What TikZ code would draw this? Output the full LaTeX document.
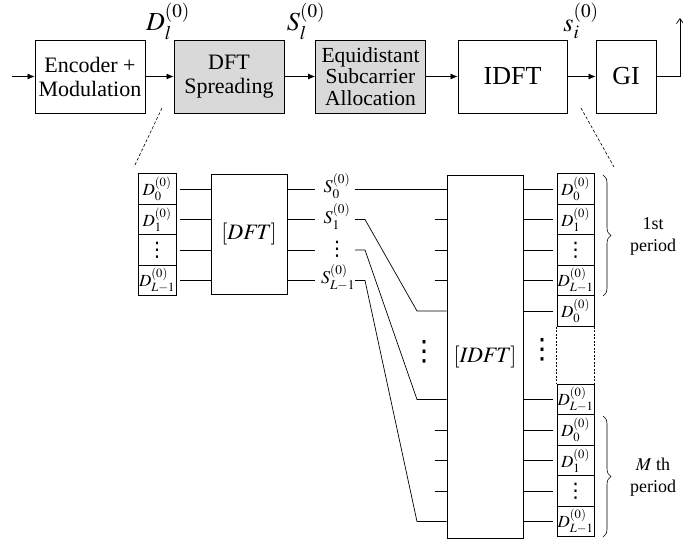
\documentclass[tikz,border=0pt]{standalone}
\usepackage{mathptmx}
\usepackage[no-math]{fontspec}
\setmainfont{Liberation Serif}
\newfontfamily\djv{DejaVu Sans}
\usetikzlibrary{arrows.meta,decorations.pathreplacing}
\newcommand{\myvd}[1]{{\djv\fontsize{#1}{#1}\selectfont ⋮}}
\begin{document}
\begin{tikzpicture}[x=1pt,y=-1pt,
 blk/.style={draw, line width=0.8pt, minimum height=73pt, align=center, inner sep=0pt, font=\fontsize{22}{24}\selectfont},
 gblk/.style={blk, fill=black!15},
 cell/.style={draw, line width=0.8pt, minimum width=37pt, minimum height=30.5pt, inner sep=0pt, font=\fontsize{17}{20}\selectfont},
 wire/.style={line width=0.7pt},
 arr/.style={wire, -{Latex[length=7pt,width=6pt]}},
 zoomln/.style={line width=0.6pt, dash pattern=on 3pt off 2pt},
 lbl/.style={font=\fontsize{26}{28}\selectfont, inner sep=0pt},
 slbl/.style={font=\fontsize{18}{20}\selectfont, inner sep=0pt},
 per/.style={align=center, font=\fontsize{18}{22}\selectfont},
 brc/.style={decorate, decoration={brace, amplitude=8pt}, line width=0.6pt},
 dts/.style={inner sep=0pt}]
\useasboundingbox (0,0) rectangle (683,542);

% ---------- top chain ----------
\node[blk, minimum width=110pt] (enc) at (90,76.5) {Encoder +\\Modulation};
\node[gblk, minimum width=110pt] (dft) at (229,76.5) {DFT\\Spreading};
\node[gblk, minimum width=110pt, font=\fontsize{21.5}{21.5}\selectfont] (eq) at (370.5,76.5) {Equidistant\\Subcarrier\\Allocation};
\node[blk, minimum width=109pt, font=\fontsize{26}{28}\selectfont] (idft) at (512.5,76.5) {IDFT};
\node[blk, minimum width=60pt, font=\fontsize{26}{28}\selectfont] (gi) at (626,76.5) {GI};

\coordinate (in) at (12,76.5);
\coordinate (outc) at (680,76.5);
\coordinate (outt) at (680,18);
\draw[arr] (in) -- (enc);
\draw[arr] (enc) -- (dft);
\draw[arr] (dft) -- (eq);
\draw[arr] (eq) -- (idft);
\draw[arr] (idft) -- (gi);
\draw[wire, -{Straight Barb[length=5pt,width=7pt]}] (gi.east) -- (outc) -- (outt);

\node[lbl] (lD) at (168,21) {$D_l^{(0)}$};
\node[lbl] (lS) at (306,21) {$S_l^{(0)}$};
\node[lbl] (ls) at (581,21) {$s_i^{(0)}$};

% zoom lines
\coordinate (zl1) at (162,108);
\coordinate (zl2) at (134,167);
\coordinate (zr1) at (581,108);
\coordinate (zr2) at (614,167);
\draw[zoomln] (zl1) -- (zl2);
\draw[zoomln] (zr1) -- (zr2);

% ---------- left column and DFT matrix ----------
\node[cell, minimum width=38pt] (a1) at (157,189) {$D_0^{(0)}$};
\node[cell, minimum width=38pt] (a2) at (157,219.5) {$D_1^{(0)}$};
\node[cell, minimum width=38pt] (a3) at (157,250) {\myvd{20pt}};
\node[cell, minimum width=38pt] (a4) at (157,280.5) {$D_{L-1}^{(0)}$};

\node[draw, line width=0.8pt, minimum width=76pt, minimum height=120pt, inner sep=0pt, font=\fontsize{22}{24}\selectfont] (dftm) at (249,234) {$[\mathit{DFT}]$};

\foreach \i in {1,2,3,4}{
  \draw[wire] ([xshift=4pt]a\i.east) -- (dftm.west |- a\i.east);
  \draw[wire] (dftm.east |- a\i.east) -- ++(28,0);
}

\node[slbl] (s1) at (337,186) {$S_0^{(0)}$};
\node[slbl] (s2) at (337,216.5) {$S_1^{(0)}$};
\node[slbl] (s3) at (337,249) {\myvd{20pt}};
\node[slbl] (s4) at (338,277.5) {$S_{L-1}^{(0)}$};

% ---------- IDFT matrix ----------
\node[draw, line width=0.8pt, minimum width=76pt, minimum height=363pt, inner sep=0pt, font=\fontsize{22}{24}\selectfont] (idftm) at (485,356.5) {$[\mathit{IDFT}]$};

% right column
\node[cell] (r1) at (575.5,189) {$D_0^{(0)}$};
\node[cell] (r2) at (575.5,219.5) {$D_1^{(0)}$};
\node[cell] (r3) at (575.5,250) {\myvd{20pt}};
\node[cell] (r4) at (575.5,280.5) {$D_{L-1}^{(0)}$};
\node[cell] (r5) at (575.5,311) {$D_0^{(0)}$};
\node[cell] (r6) at (575.5,399.5) {$D_{L-1}^{(0)}$};
\node[cell] (r7) at (575.5,430) {$D_0^{(0)}$};
\node[cell] (r8) at (575.5,460.5) {$D_1^{(0)}$};
\node[cell] (r9) at (575.5,491) {\myvd{20pt}};
\node[cell] (r10) at (575.5,521.5) {$D_{L-1}^{(0)}$};
\draw[wire, dash pattern=on 2pt off 1.5pt] (r5.south west) -- (r6.north west);
\draw[wire, dash pattern=on 2pt off 1.5pt] (r5.south east) -- (r6.north east);

\foreach \i in {1,...,10}{
  \draw[wire] (idftm.east |- r\i.west) -- ([xshift=-4pt]r\i.west);
}
\foreach \i in {2,3,4,7,8,9}{
  \draw[wire] ([xshift=-12pt]idftm.west |- r\i.west) -- (idftm.west |- r\i.west);
}

% connections S -> IDFT
\coordinate (c1) at (355,189);
\coordinate (c2) at (355,219.5);
\coordinate (c3) at (355,250);
\coordinate (c4) at (355,280.5);
\draw[wire] (c1) -- (idftm.west |- r1.west);
\draw[wire] (c2) -- ++(10,0) -- (417,311) -- (idftm.west |- r5.west);
\draw[wire] (c3) -- ++(10,0) -- (417,399.5) -- (idftm.west |- r6.west);
\draw[wire] (c4) -- ++(10,0) -- (417,521.5) -- (idftm.west |- r10.west);

\node[dts] (md) at (424,352) {\myvd{28pt}};
\node[dts] (rd) at (542,350) {\myvd{28pt}};

% braces
\draw[brc] (603,175) -- (603,296);
\draw[brc] (603,416) -- (603,537);
\node[per] (p1) at (653,236) {1st\\period};
\node[per] (p2) at (653,477) {$M$ th\\period};
\end{tikzpicture}
\end{document}
